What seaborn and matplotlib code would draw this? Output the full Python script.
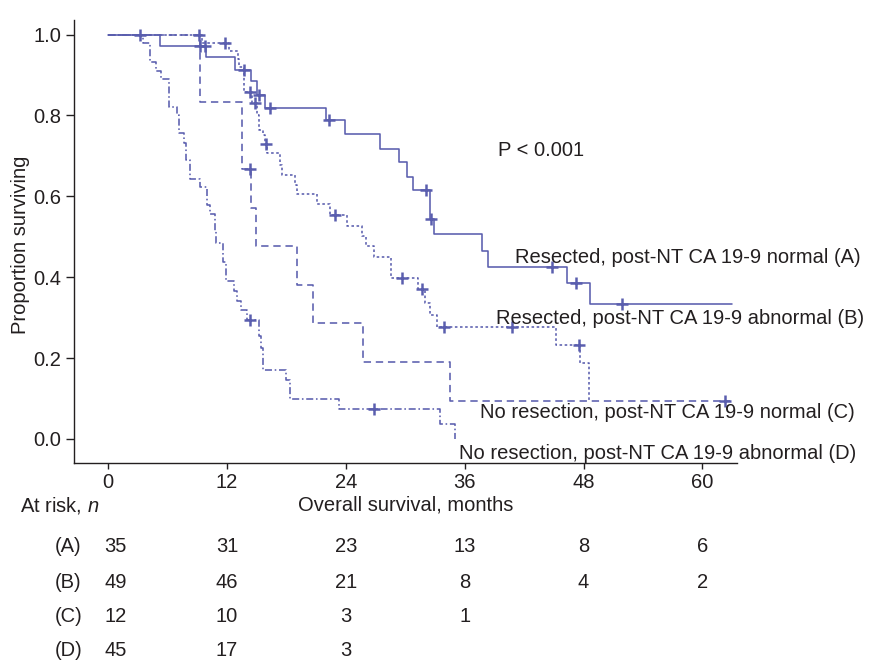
import numpy as np
import pandas as pd
import matplotlib
matplotlib.use("Agg")
import matplotlib.pyplot as plt
import seaborn as sns
from matplotlib import font_manager
from matplotlib.transforms import blended_transform_factory

# ---------------- data ----------------
# Curve A: Resected, post-NT CA 19-9 normal
A_times = [5.25, 9.9, 12.8, 14.4, 15.0, 15.85, 22.0, 23.9, 27.4, 29.4, 30.2, 30.8,
           32.5, 32.9, 37.7, 38.4, 46.3, 48.7]
A_surv = [0.971, 0.944, 0.912, 0.884, 0.851, 0.819, 0.789, 0.754, 0.717, 0.686, 0.648,
          0.616, 0.543, 0.507, 0.466, 0.426, 0.385, 0.333]
A_censor = [3.2, 9.3, 9.8, 13.7, 15.2, 16.3, 22.3, 32.1, 32.6, 44.8, 47.2, 51.9]
A_end = 63.0

# Curve B: Resected, post-NT CA 19-9 abnormal
B_times = [9.5, 12.2, 13.1, 13.2, 13.7, 14.5, 15.0, 15.2, 15.6, 15.8, 16.0, 17.4, 17.6,
           18.9, 19.1, 21.1, 22.4, 24.1, 25.6, 26.0, 26.8, 28.6, 31.3, 32.0, 32.5, 33.2,
           45.2, 47.6, 48.6]
B_surv = [0.98, 0.96, 0.94, 0.92, 0.857, 0.83, 0.802, 0.765, 0.752, 0.73, 0.707, 0.678,
          0.653, 0.629, 0.606, 0.58, 0.554, 0.527, 0.501, 0.476, 0.449, 0.397, 0.37,
          0.337, 0.307, 0.276, 0.233, 0.189, 0.095]
B_censor = [11.75, 14.3, 14.8, 15.95, 22.9, 29.7, 31.7, 33.9, 40.8, 47.5]
B_end = 48.6

# Curve C: No resection, post-NT CA 19-9 normal
C_times = [9.3, 13.5, 14.4, 14.95, 19.05, 20.7, 25.7, 34.5]
C_surv = [0.833, 0.667, 0.571, 0.476, 0.381, 0.286, 0.190, 0.095]
C_censor = [9.2, 14.3, 62.3]
C_end = 62.8

# Curve D: No resection, post-NT CA 19-9 abnormal
D_times = [3.47, 4.18, 4.81, 5.32, 6.16, 6.94, 7.14, 7.61, 7.88, 8.28, 9.29, 9.97, 10.24,
           10.74, 10.91, 11.55, 11.92, 12.73, 13.0, 13.4, 14.07, 15.25, 15.45, 15.62,
           18.0, 18.4, 23.3, 33.5, 35.05]
D_surv = [0.978, 0.933, 0.911, 0.889, 0.822, 0.80, 0.756, 0.733, 0.689, 0.644, 0.622,
          0.578, 0.556, 0.514, 0.484, 0.437, 0.39, 0.365, 0.34, 0.319, 0.295, 0.254,
          0.224, 0.171, 0.146, 0.098, 0.073, 0.037, 0.0]
D_censor = [14.3, 26.8]
D_end = 35.05

curve_labels = ["Resected, post-NT CA 19-9 normal (A)",
                "Resected, post-NT CA 19-9 abnormal (B)",
                "No resection, post-NT CA 19-9 normal (C)",
                "No resection, post-NT CA 19-9 abnormal (D)"]
label_pos_x = [41.1, 39.2, 37.5, 35.4]
label_pos_y = [0.449, 0.298, 0.065, -0.036]

x_ticks = [0, 12, 24, 36, 48, 60]
y_ticks = [0.0, 0.2, 0.4, 0.6, 0.8, 1.0]

risk_groups = ["(A)", "(B)", "(C)", "(D)"]
risk_A = [35, 31, 23, 13, 8, 6]
risk_B = [49, 46, 21, 8, 4, 2]
risk_C = [12, 10, 3, 1]
risk_D = [45, 17, 3]

p_text = "P < 0.001"

# ---------------- style ----------------
sns.set_theme(style="ticks")
names = {f.name for f in font_manager.fontManager.ttflist}
BASE = "Liberation Sans" if "Liberation Sans" in names else "DejaVu Sans"
NARROW = "Liberation Sans Narrow" if "Liberation Sans Narrow" in names else BASE
plt.rcParams["font.family"] = [BASE, "DejaVu Sans"]
plt.rcParams["mathtext.fontset"] = "custom"
plt.rcParams["mathtext.rm"] = NARROW
plt.rcParams["mathtext.it"] = NARROW + ":italic"

TXT = "#231f20"
COL = "#5a5eae"
FS = 14.5
W, H = 886, 660

fig = plt.figure(figsize=(W / 100, H / 100), dpi=100)
ax_l, ax_r, ax_t, ax_b = 74, 737, 20, 463
ax = fig.add_axes([ax_l / W, 1 - ax_b / H, (ax_r - ax_l) / W, (ax_b - ax_t) / H])


def step_frame(times, surv, end):
    t = [0.0] + list(times)
    s = [1.0] + list(surv)
    if end > t[-1]:
        t.append(end)
        s.append(s[-1])
    return pd.DataFrame({"time": t, "surv": s})


def surv_at(times, surv, t):
    idx = np.searchsorted(np.asarray(times), np.asarray(t), side="right")
    vals = np.concatenate([[1.0], np.asarray(surv)])
    return vals[idx]


curves = [
    (A_times, A_surv, A_censor, A_end, "-"),
    (B_times, B_surv, B_censor, B_end, (0, (1.6, 1.6))),
    (C_times, C_surv, C_censor, C_end, (0, (4.6, 3.0))),
    (D_times, D_surv, D_censor, D_end, (0, (4.4, 1.7, 1.0, 1.7))),
]

for times, surv, cens, end, ls in curves:
    df = step_frame(times, surv, end)
    sns.lineplot(data=df, x="time", y="surv", ax=ax, color=COL, lw=1.15,
                 linestyle=ls, drawstyle="steps-post", estimator=None, sort=False,
                 zorder=2)
    cdf = pd.DataFrame({"time": cens, "surv": surv_at(times, surv, cens)})
    sns.scatterplot(data=cdf, x="time", y="surv", ax=ax, marker="+", s=70,
                    color=COL, linewidth=1.8, zorder=3)

ax.set_xlim(-3.45, 63.5)
ax.set_ylim(-(ax_b - 439) / 404.5, (439 - ax_t) / 404.5)
sns.despine(ax=ax)
for sp in ["left", "bottom"]:
    ax.spines[sp].set_color(TXT)
    ax.spines[sp].set_linewidth(1.0)

ax.set_xticks(x_ticks)
ax.set_xticklabels([str(v) for v in x_ticks], fontfamily=NARROW, fontsize=FS, color=TXT)
ax.set_yticks(y_ticks)
ax.set_yticklabels([f"{v:.1f}" for v in y_ticks], fontsize=FS, color=TXT)
ax.tick_params(axis="y", direction="out", length=6, width=1.0, color=TXT, pad=3)
ax.tick_params(axis="x", direction="out", length=4.5, width=1.0, color=TXT, pad=3)

ax.set_xlabel("Overall survival, months", fontfamily=NARROW, fontsize=FS, color=TXT)
ax.xaxis.label.set_va("center")
ax.xaxis.set_label_coords(0.5, (ax_b - 505) / (ax_b - ax_t))
ax.set_ylabel("Proportion surviving", fontsize=FS, color=TXT)
ax.yaxis.label.set_va("center")
ax.yaxis.set_label_coords((21 - ax_l) / (ax_r - ax_l), (ax_b - 245) / (ax_b - ax_t))

ax.text(39.4, 0.712, p_text, fontsize=FS, color=TXT, ha="left", va="center")
for lab, lx, ly in zip(curve_labels, label_pos_x, label_pos_y):
    ax.text(lx, ly, lab, fontsize=FS, color=TXT, ha="left", va="center", clip_on=False)

# ---------------- number at risk table ----------------
trans = blended_transform_factory(ax.transData, fig.transFigure)
fig.text(20 / W, 1 - 505 / H, "At risk, $n$", fontsize=FS, color=TXT, ha="left",
         va="center", fontfamily=NARROW)
row_y = [547, 583, 617, 650]
for grp, counts, ypx in zip(risk_groups, [risk_A, risk_B, risk_C, risk_D], row_y):
    yf = 1 - ypx / H
    fig.text(55 / W, yf, grp, fontsize=FS, color=TXT, ha="left", va="center",
             fontfamily=NARROW)
    for i, c in enumerate(counts):
        xpos = x_ticks[i] + (0.75 if i == 0 else 0.0)
        ax.text(xpos, yf, str(c), transform=trans, fontsize=FS, color=TXT,
                ha="center", va="center", fontfamily=NARROW, clip_on=False)

fig.savefig("out.png", dpi=100)
